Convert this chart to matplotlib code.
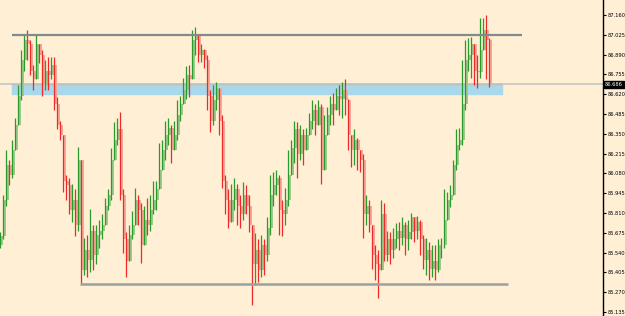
import numpy as np
import matplotlib
matplotlib.use('Agg')
import matplotlib.pyplot as plt
import matplotlib.transforms as mtransforms
from matplotlib import font_manager

# candle data (open of each candle = previous close)
first_open = 85.59
closes = [85.65, 85.90, 86.14, 86.07, 86.24, 86.41, 86.61, 86.85, 86.99, 86.96,
          86.78, 86.72, 86.96, 86.89, 86.68, 86.78, 86.75, 86.82, 86.55, 86.41,
          86.34, 86.03, 86.00, 85.83, 85.90, 85.73, 86.17, 85.42, 85.56, 85.49,
          85.69, 85.52, 85.66, 85.69, 85.73, 85.86, 85.93, 86.17, 86.31, 86.38,
          85.93, 85.63, 85.48, 85.66, 85.73, 85.90, 85.83, 85.59, 85.76, 85.73,
          85.83, 85.90, 85.97, 86.10, 86.24, 86.34, 86.39, 86.24, 86.34, 86.48,
          86.55, 86.65, 86.75, 86.72, 86.99, 87.02, 86.89, 86.92, 86.85, 86.61,
          86.44, 86.58, 86.66, 86.44, 86.03, 85.90, 85.75, 85.90, 85.97, 85.86,
          85.80, 85.93, 85.86, 85.73, 85.46, 85.56, 85.42, 85.59, 85.52, 85.71,
          85.93, 86.00, 86.05, 85.83, 85.80, 85.90, 86.07, 86.25, 86.38, 86.21,
          86.34, 86.24, 86.34, 86.44, 86.51, 86.41, 86.53, 86.10, 86.34, 86.48,
          86.55, 86.51, 86.61, 86.59, 86.65, 86.58, 86.34, 86.24, 86.31, 86.24,
          86.17, 85.80, 85.86, 85.73, 85.52, 85.46, 85.42, 85.80, 85.52, 85.63,
          85.56, 85.63, 85.69, 85.64, 85.73, 85.63, 85.68, 85.78, 85.69, 85.75,
          85.63, 85.49, 85.56, 85.43, 85.48, 85.42, 85.59, 85.59, 85.76, 85.90,
          85.93, 86.14, 86.27, 86.31, 86.55, 86.85, 86.89, 86.96, 86.78, 86.77,
          86.92, 87.06, 86.99, 86.686]
highs = [85.68, 85.93, 86.24, 86.17, 86.31, 86.46, 86.68, 86.92, 87.02, 87.06,
         86.99, 86.82, 87.02, 86.96, 86.92, 86.85, 86.87, 86.87, 86.87, 86.60,
         86.44, 86.29, 86.07, 86.05, 86.01, 85.97, 86.26, 86.17, 85.64, 85.66,
         85.84, 85.73, 85.73, 85.76, 85.80, 85.91, 85.97, 86.25, 86.43, 86.46,
         86.50, 85.97, 85.68, 85.73, 85.82, 85.98, 85.93, 85.88, 85.86, 85.91,
         85.93, 86.03, 86.03, 86.29, 86.31, 86.44, 86.46, 86.41, 86.44, 86.58,
         86.61, 86.73, 86.81, 86.82, 87.06, 87.08, 86.99, 86.96, 86.93, 86.89,
         86.65, 86.68, 86.70, 86.66, 86.48, 86.07, 85.97, 86.01, 86.05, 86.01,
         85.93, 86.02, 86.00, 85.93, 85.73, 85.67, 85.63, 85.66, 85.63, 85.78,
         86.07, 86.09, 86.10, 86.07, 85.90, 85.98, 86.24, 86.31, 86.44, 86.43,
         86.41, 86.38, 86.39, 86.49, 86.58, 86.55, 86.58, 86.55, 86.48, 86.53,
         86.61, 86.63, 86.66, 86.68, 86.70, 86.72, 86.59, 86.34, 86.38, 86.32,
         86.24, 86.21, 85.93, 85.90, 85.66, 85.59, 85.56, 85.90, 85.88, 85.69,
         85.68, 85.71, 85.74, 85.75, 85.78, 85.75, 85.76, 85.81, 85.78, 85.79,
         85.76, 85.66, 85.64, 85.61, 85.59, 85.59, 85.63, 85.64, 85.97, 85.95,
         86.00, 86.17, 86.38, 86.39, 86.85, 86.99, 87.00, 87.01, 86.89, 86.89,
         87.14, 87.14, 87.16, 87.00]
lows = [85.57, 85.63, 85.86, 86.00, 86.05, 86.34, 86.50, 86.58, 86.78, 86.85,
        86.75, 86.65, 86.72, 86.83, 86.61, 86.65, 86.65, 86.72, 86.51, 86.38,
        86.31, 85.95, 85.90, 85.80, 85.75, 85.65, 85.69, 85.33, 85.39, 85.37,
        85.41, 85.42, 85.46, 85.57, 85.63, 85.75, 85.83, 85.90, 86.17, 86.27,
        85.90, 85.54, 85.37, 85.49, 85.63, 85.80, 85.73, 85.47, 85.63, 85.66,
        85.69, 85.80, 85.83, 86.00, 86.10, 86.17, 86.27, 86.15, 86.24, 86.31,
        86.44, 86.55, 86.59, 86.60, 86.72, 86.89, 86.84, 86.84, 86.80, 86.51,
        86.36, 86.41, 86.51, 86.34, 85.98, 85.80, 85.71, 85.82, 85.83, 85.73,
        85.71, 85.76, 85.80, 85.68, 85.18, 85.32, 85.34, 85.37, 85.39, 85.48,
        85.66, 85.86, 85.93, 85.66, 85.65, 85.73, 85.86, 86.14, 86.15, 86.05,
        86.17, 86.14, 86.24, 86.34, 86.38, 86.34, 86.44, 86.01, 86.14, 86.38,
        86.41, 86.41, 86.51, 86.48, 86.46, 86.48, 86.24, 86.12, 86.14, 86.10,
        86.09, 85.64, 85.73, 85.68, 85.43, 85.35, 85.23, 85.42, 85.48, 85.48,
        85.46, 85.50, 85.57, 85.56, 85.59, 85.52, 85.56, 85.63, 85.61, 85.63,
        85.52, 85.43, 85.39, 85.35, 85.37, 85.35, 85.41, 85.50, 85.57, 85.83,
        85.85, 85.93, 86.10, 86.24, 86.27, 86.51, 86.78, 86.73, 86.68, 86.66,
        86.73, 86.96, 86.72, 86.67]

# drawn levels
resistance = 87.023
support = 85.323
zone_top, zone_bottom = 86.689, 86.621
last_price = 86.686
price_ticks = [85.135, 85.270, 85.405, 85.540, 85.675, 85.810, 85.945, 86.080,
               86.215, 86.350, 86.485, 86.620, 86.755, 86.890, 87.025, 87.160]

closes = np.array(closes)
opens = np.concatenate([[first_open], closes[:-1]])
highs = np.maximum(np.array(highs), np.maximum(opens, closes))
lows = np.minimum(np.array(lows), np.minimum(opens, closes))
idx = np.arange(len(closes))
up = closes >= opens

# small axis font: a narrow face if there is one
installed = {f.name for f in font_manager.fontManager.ttflist}
if 'Liberation Sans Narrow' in installed:
    label_font, label_size = 'Liberation Sans Narrow', 4.5
else:
    label_font, label_size = 'DejaVu Sans', 3.7

bg = '#ffefd5'
fig = plt.figure(figsize=(6.25, 3.16), dpi=100, facecolor=bg)
ax = fig.add_axes([0, 0, 603 / 625, 1])
ax.set_facecolor(bg)

# support / resistance zone
ax.fill_between([11 / 3, 501 / 3], zone_bottom, zone_top, color='#a9d8ea', zorder=1)
ax.hlines(zone_top, 11 / 3, 501 / 3, color='#8fbfd0', lw=1, zorder=1)
ax.axhline(last_price, color='#c4c4c0', lw=1.2, zorder=1)

# candles: light body with darker wick on its left edge
body_up, body_dn = '#9cc98c', '#f8a898'
wick_up, wick_dn = '#2a9a2a', '#f02828'
bottoms = np.minimum(opens, closes)
heights = np.maximum(np.abs(closes - opens), 0.004)
ax.bar(idx[up] - 0.3, heights[up], bottom=bottoms[up], width=0.85, align='edge',
       color=body_up, zorder=2)
ax.bar(idx[~up] - 0.3, heights[~up], bottom=bottoms[~up], width=0.85, align='edge',
       color=body_dn, zorder=2)
ax.vlines(idx[up] - 0.2, lows[up], highs[up], color=wick_up, lw=0.9, zorder=3)
ax.vlines(idx[~up] - 0.2, lows[~up], highs[~up], color=wick_dn, lw=0.9, zorder=3)

# trend lines
ax.hlines(resistance, 11 / 3, 521 / 3, color='#7f8c8c', lw=1.6, zorder=4)
ax.hlines(support, 79 / 3, 507 / 3, color='#98a0a0', lw=1.8, zorder=4)

ax.set_xlim(-1 / 3, 602 / 3)
ax.set_ylim(85.107, 87.262)
for s in ['top', 'left', 'bottom']:
    ax.spines[s].set_visible(False)
ax.spines['right'].set_color('black')
ax.spines['right'].set_linewidth(1)
ax.set_xticks([])
ax.yaxis.tick_right()
ax.set_yticks(price_ticks)
ax.set_yticklabels(['%.3f' % t for t in price_ticks], family=label_font)
ax.tick_params(axis='y', direction='out', length=2.5, width=0.8, labelsize=label_size,
               pad=0.8, colors='black', labelcolor='black')

trans = mtransforms.blended_transform_factory(ax.transAxes, ax.transData)
ax.text(1.003, last_price, '%.3f' % last_price, transform=trans, fontsize=label_size,
        family=label_font, color='white', va='center', ha='left', clip_on=False,
        zorder=10, bbox=dict(boxstyle='square,pad=0.25', fc='black', ec='black'))

fig.savefig('out.png', dpi=100, facecolor=bg)
